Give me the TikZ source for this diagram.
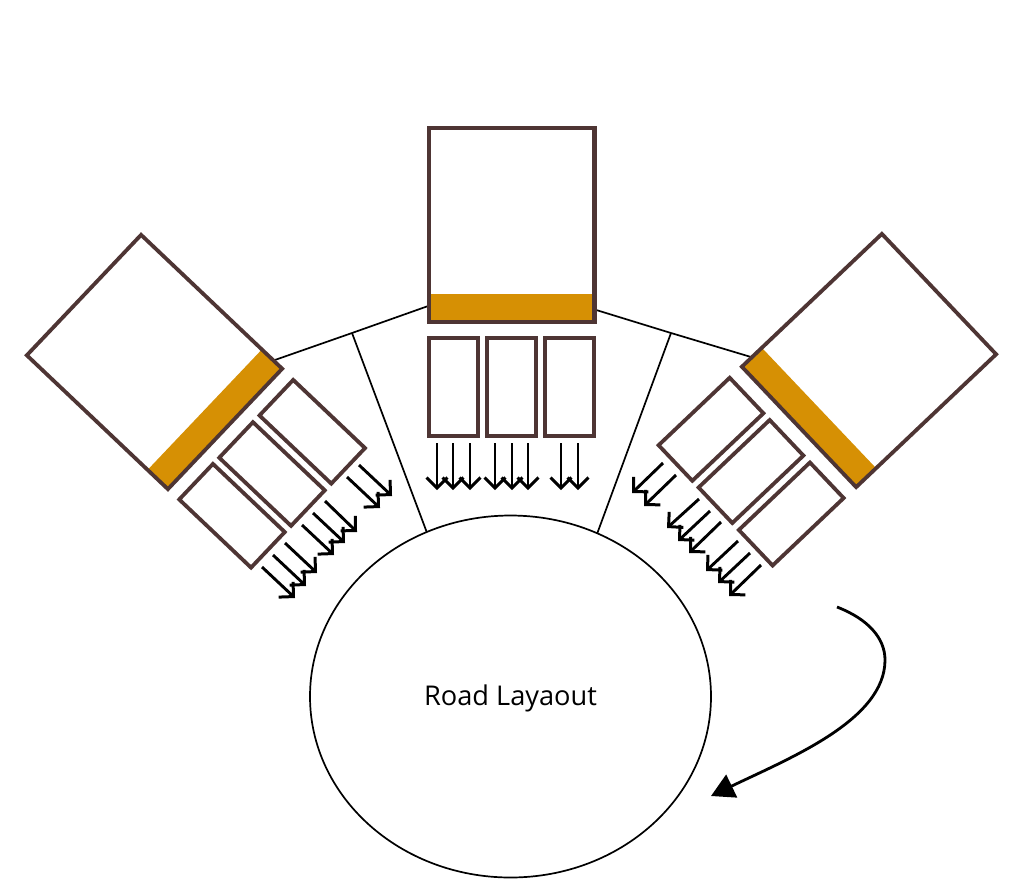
\documentclass[tikz,border=0pt]{standalone}
\usepackage{fontspec}
\setmainfont{Open Sans}
\usetikzlibrary{arrows.meta,shapes.geometric}
\definecolor{frame}{HTML}{4E3534}
\definecolor{band}{HTML}{D69004}
\pgfdeclarearrow{
  name=OpenVee,
  setup code={
    \pgfarrowssettipend{0pt}
    \pgfarrowssetlineend{-2pt}
    \pgfarrowssetvisualtipend{0pt}
    \pgfarrowssetbackend{-12pt}
    \pgfarrowssetvisualbackend{-2pt}
    \pgfarrowshullpoint{0pt}{0pt}
    \pgfarrowshullpoint{-12pt}{11pt}
    \pgfarrowshullpoint{-12pt}{-11pt}
  },
  drawing code={
    \pgfsetdash{}{0pt}
    \pgfsetmiterjoin
    \pgfsetlinewidth{3pt}
    \pgfpathmoveto{\pgfqpoint{-12.5pt}{10.5pt}}
    \pgfpathlineto{\pgfqpoint{-2.1pt}{0pt}}
    \pgfpathlineto{\pgfqpoint{-12.5pt}{-10.5pt}}
    \pgfusepathqstroke
  }
}
\tikzset{
  x=1pt,y=-1pt,
  box/.style={draw=frame,line width=3.8pt,inner sep=0pt,outer sep=0pt},
  bandbox/.style={fill=band,draw=none,inner sep=0pt,outer sep=0pt},
  thinline/.style={draw=black,line width=1.7pt},
  flow/.style={draw=black,line width=2.9pt,-OpenVee},
  bigarrow/.style={draw=black,line width=2.8pt,-{Triangle[length=23pt,width=25pt]}},
  road/.style={draw=black,line width=1.7pt,ellipse,inner sep=0pt,outer sep=0pt,minimum width=401pt,minimum height=362pt},
  roadlabel/.style={font=\fontsize{27.2}{32}\selectfont,inner sep=0pt}
}
\begin{document}
\begin{tikzpicture}
\useasboundingbox[fill=white] (0,0) rectangle (1024,892);
% road
\node[road] (roadlayout) at (510.5,696.5) {};
\node[roadlabel] (roadtext) at (510.5,698.5) {Road Layaout};
% coordinates for connector ends
\coordinate (lj) at (352,333);
\coordinate (rj) at (671,333);
\coordinate (ls) at (272,361);
\coordinate (rs) at (751,357);
\coordinate (cl) at (431,305);
\coordinate (cr) at (593,309);
\draw[thinline] (ls) -- (lj) -- (cl);
\draw[thinline] (cr) -- (rj) -- (rs);
\draw[thinline] (lj) -- (roadlayout.117.3);
\draw[thinline] (rj) -- (roadlayout.62.5);
% centre group
\node[bandbox,minimum width=166pt,minimum height=28pt] (cband) at (511.5,308) {};
\node[box,line width=4.2pt,minimum width=165.5pt,minimum height=194pt] (cbig) at (511.8,225) {};
\node[box,line width=4.2pt,minimum width=49pt,minimum height=98.5pt] (c1) at (453.5,387) {};
\node[box,line width=4.2pt,minimum width=49pt,minimum height=98.5pt] (c2) at (511.5,387) {};
\node[box,line width=4.2pt,minimum width=49pt,minimum height=98.5pt] (c3) at (569.5,387) {};
% left group
\node[bandbox,rotate=-43.5,minimum width=28pt,minimum height=166pt] (lband) at (214.8,419.4) {};
\node[box,rotate=-43.5,minimum width=194.5pt,minimum height=166pt] (lbig) at (154.5,362) {};
\node[box,rotate=-43.5,minimum width=99pt,minimum height=49pt] (l3) at (312.25,431.75) {};
\node[box,rotate=-43.5,minimum width=99pt,minimum height=49pt] (l2) at (272,474) {};
\node[box,rotate=-43.5,minimum width=99pt,minimum height=49pt] (l1) at (232,515.75) {};
% right group
\node[bandbox,rotate=43.5,minimum width=28pt,minimum height=166pt] (rband) at (808.6,417.4) {};
\node[box,rotate=43.5,minimum width=193pt,minimum height=166pt] (rbig) at (869,360.5) {};
\node[box,rotate=43.5,minimum width=98pt,minimum height=49pt] (r1) at (711,429.25) {};
\node[box,rotate=43.5,minimum width=98pt,minimum height=49pt] (r2) at (751,471.5) {};
\node[box,rotate=43.5,minimum width=98pt,minimum height=49pt] (r3) at (791.25,514) {};
% flow arrows: centre
\foreach \n/\x in {a/437,b/453,c/470,d/495,e/512,f/528,g/561,h/578}{
  \coordinate (ct\n) at (\x,443);
  \coordinate (cb\n) at (\x,490);
  \draw[flow] (ct\n) -- (cb\n);
}
% flow arrows: left
\foreach \n/\a/\b/\c/\d in {a/359/465/392/496,b/347/477/380/508,c/325/501/357/532,d/313/513/345/543,e/302/525/334/555,f/285/543/317/573,g/273/555/306/586,h/262/567/295/598}{
  \coordinate (lt\n) at (\a,\b);
  \coordinate (lb\n) at (\c,\d);
  \draw[flow] (lt\n) -- (lb\n);
}
% flow arrows: right
\foreach \n/\a/\b/\c/\d in {a/663/463/632/493,b/676/475/644/506,c/699/499/667/528,d/710/511/678/541,e/721/522/689/553,f/738/541/706/571,g/750/553/718/583,h/761/565/729/596}{
  \coordinate (rt\n) at (\a,\b);
  \coordinate (rb\n) at (\c,\d);
  \draw[flow] (rt\n) -- (rb\n);
}
% direction arrow
\coordinate (ds) at (837,607);
\coordinate (dm) at (885,660);
\coordinate (de) at (711,796);
\draw[bigarrow] (ds) .. controls (868,619) and (885,638) .. (dm) .. controls (885,720) and (790,758) .. (de);
\end{tikzpicture}
\end{document}
